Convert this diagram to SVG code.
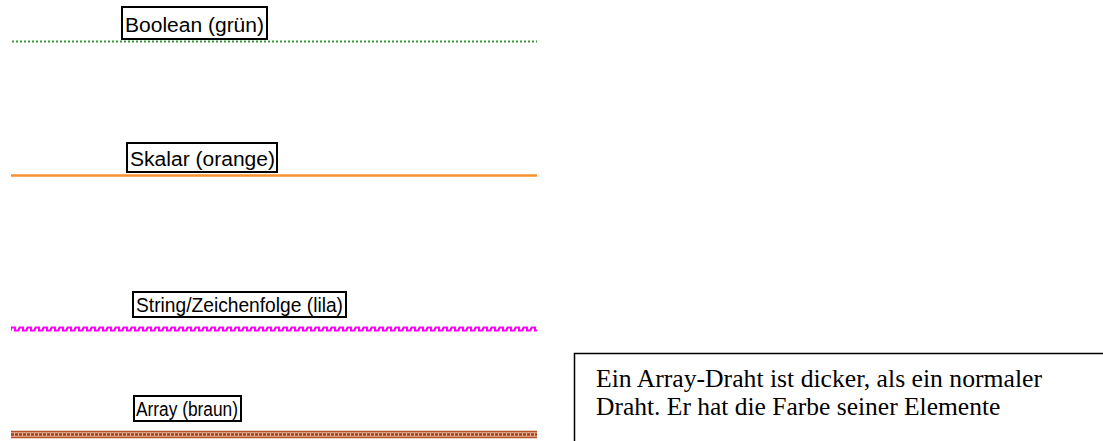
<svg xmlns="http://www.w3.org/2000/svg" width="1103" height="441" viewBox="0 0 1103 441">
<style>
.lbl{font-family:"Liberation Sans",Arial,sans-serif;font-size:20px;fill:#000}
.box{fill:#fff;stroke:#000;stroke-width:2}
.note{font-family:"Liberation Serif","Times New Roman",serif;font-size:25.5px;fill:#000}
</style>
<defs>
<pattern id="wave" patternUnits="userSpaceOnUse" x="11" y="325" width="8" height="8">
<path d="M0 5.5 V2.5 H4 V5.5 H8 V2.5" fill="none" stroke="#ff00ff" stroke-width="2"/>
</pattern>
</defs>
<rect width="1103" height="441" fill="#fff"/>
<g id="connectors">
<line id="wire-bool" x1="12" y1="41.5" x2="537" y2="41.5" stroke="#3a9a3a" stroke-width="2" stroke-dasharray="2 2"/>
<line id="wire-scalar" x1="11" y1="175.5" x2="537" y2="175.5" stroke="#f7922e" stroke-width="2.5"/>
<rect id="wire-string" x="11" y="325" width="526" height="8" fill="url(#wave)"/>
<g id="wire-array">
<rect x="11" y="431" width="526" height="7" fill="#e9b49a"/>
<line x1="11" y1="431.5" x2="537" y2="431.5" stroke="#b5502a" stroke-width="1.5"/>
<line x1="11" y1="437.5" x2="537" y2="437.5" stroke="#b5502a" stroke-width="1.5"/>
<line x1="11" y1="434.5" x2="537" y2="434.5" stroke="#a5401c" stroke-width="2.5" stroke-dasharray="3 1"/>
</g>
</g>
<g id="label-boolean">
<rect class="box" x="122" y="7" width="145" height="32"/>
<text class="lbl" x="125" y="32" textLength="139" lengthAdjust="spacingAndGlyphs">Boolean (grün)</text>
</g>
<g id="label-scalar">
<rect class="box" x="127" y="143" width="150" height="29"/>
<text class="lbl" x="130" y="166" textLength="145" lengthAdjust="spacingAndGlyphs">Skalar (orange)</text>
</g>
<g id="label-string">
<rect class="box" x="133" y="292" width="213" height="25"/>
<text class="lbl" x="136" y="312" textLength="207" lengthAdjust="spacingAndGlyphs">String/Zeichenfolge (lila)</text>
</g>
<g id="label-array">
<rect class="box" x="134" y="396" width="107" height="25"/>
<text class="lbl" x="136" y="416" textLength="102" lengthAdjust="spacingAndGlyphs">Array (braun)</text>
</g>
<g id="note">
<path d="M574.5 445 V353.5 H1110" fill="none" stroke="#000" stroke-width="1.5"/>
<text class="note" x="596" y="387" textLength="446" lengthAdjust="spacingAndGlyphs">Ein Array-Draht ist dicker, als ein normaler</text>
<text class="note" x="596" y="415">Draht. Er hat die Farbe seiner Elemente</text>
</g>
</svg>
